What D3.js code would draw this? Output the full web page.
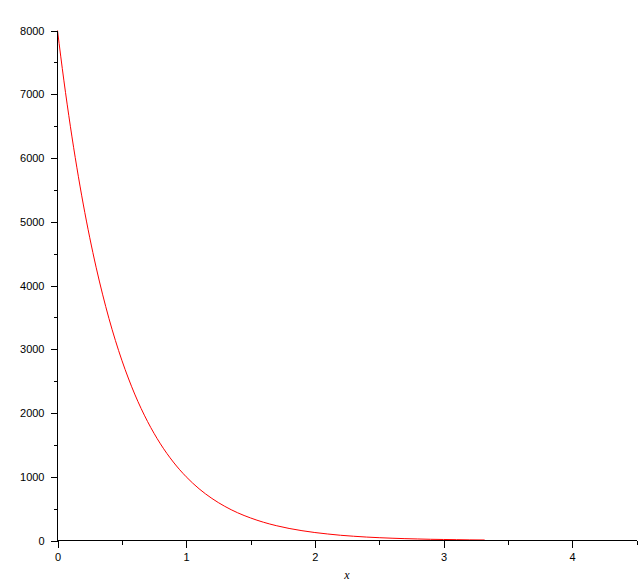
<!DOCTYPE html>
<html><head><meta charset="utf-8">
<script src="https://cdn.jsdelivr.net/npm/d3@7"></script>
<style>body{margin:0;background:#fff}svg{display:block}</style>
</head><body>
<svg id="c" width="642" height="587"></svg>
<script>
const xValues = [0,0.05,0.1,0.15,0.2,0.25,0.3,0.35,0.4,0.45,0.5,0.6,0.7,0.8,0.9,1.0,1.1,1.2,1.3,1.4,1.5,1.6,1.7,1.8,1.9,2.0,2.1,2.2,2.3,2.4,2.5,2.6,2.7,2.8,2.9,3.0,3.1,3.2,3.32];
const yValues = [8000,7210,6498,5856,5278,4757,4287,3864,3482,3138,2828,2297,1866,1516,1231,1000,812,660,536,435,354,287,233,189,154,125,102,82,67,54,44,36,29,24,19,16,13,10,8];
const xMajorTicks = [0,1,2,3,4];
const xMinorTicks = [0.5,1.5,2.5,3.5,4.5];
const yMajorTicks = [0,1000,2000,3000,4000,5000,6000,7000,8000];
const yMinorTicks = [500,1500,2500,3500,4500,5500,6500,7500];
const xTitle = "x";

const svg = d3.select("#c");
const x = d3.scaleLinear().domain([0,4.5]).range([57.5,636.5]);
const y = d3.scaleLinear().domain([0,8000]).range([540.5,30.5]);

const font = "'Liberation Sans', Arial, sans-serif";

// curve
const data = xValues.map((v,i)=>[v,yValues[i]]);
svg.append("path").datum(data)
  .attr("fill","none").attr("stroke","#ff0000").attr("stroke-width",1)
  .attr("d", d3.line().x(d=>x(d[0])).y(d=>y(d[1])).curve(d3.curveMonotoneX));

// x axis
const xAxis = svg.append("g").attr("transform",`translate(0,${y(0)})`)
  .call(d3.axisBottom(x).tickValues(xMajorTicks).tickSize(7).tickPadding(6).tickFormat(d3.format("d")));
xAxis.select(".domain").attr("d",`M${x(0)},0H${x(4.5)}`);
svg.append("g").attr("transform",`translate(0,${y(0)})`)
  .call(d3.axisBottom(x).tickValues(xMinorTicks).tickSize(4).tickFormat(""))
  .select(".domain").remove();

// y axis
const yAxis = svg.append("g").attr("transform",`translate(${x(0)},0)`)
  .call(d3.axisLeft(y).tickValues(yMajorTicks).tickSize(7).tickPadding(6).tickFormat(d3.format("d")));
yAxis.select(".domain").attr("d",`M0,${y(0)}V${y(8000)}`);
svg.append("g").attr("transform",`translate(${x(0)},0)`)
  .call(d3.axisLeft(y).tickValues(yMinorTicks).tickSize(4).tickFormat(""))
  .select(".domain").remove();

svg.selectAll(".tick text").attr("font-family",font).attr("font-size","11px").attr("fill","#000");
svg.selectAll(".domain, .tick line").attr("stroke","#000").attr("shape-rendering","crispEdges");

svg.append("text").attr("x", x(2.25)).attr("y", 579)
  .attr("text-anchor","middle")
  .attr("font-family","'Liberation Serif', 'Times New Roman', serif")
  .attr("font-style","italic").attr("font-size","12px").text(xTitle);
</script>
</body></html>
